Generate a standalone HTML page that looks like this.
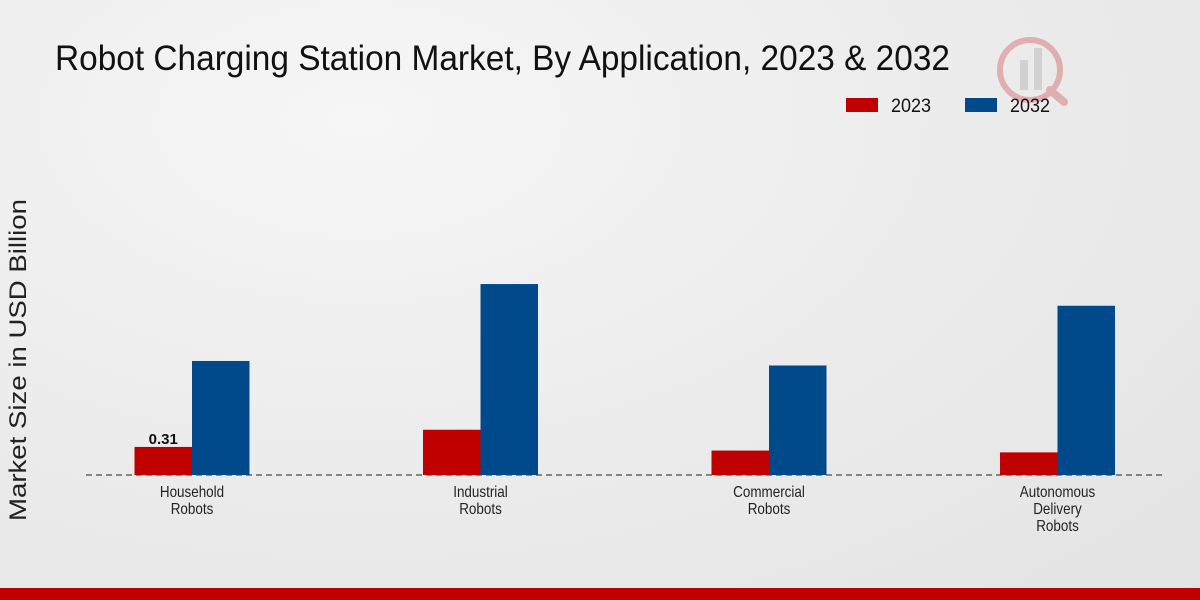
<!DOCTYPE html>
<html><head><meta charset="utf-8"><style>
body{margin:0;width:1200px;height:600px;overflow:hidden;font-family:"Liberation Sans",sans-serif;}
#bg{position:absolute;left:0;top:0;width:1200px;height:600px;background:radial-gradient(ellipse at 30% 20%,#f6f6f6 0%,#ececec 50%,#e3e3e3 100%);}
</style></head><body>
<div id="bg"></div>
<svg id="c" width="1200" height="600" style="position:absolute;left:0;top:0">
<g opacity="0.25">
<circle cx="1030" cy="70" r="30" fill="none" stroke="#c00000" stroke-width="6"/>
<rect x="1020" y="60" width="8" height="30" fill="#888"/>
<rect x="1034" y="48" width="8" height="42" fill="#888"/>
<line x1="1050" y1="90" x2="1064" y2="102" stroke="#c00000" stroke-width="8" stroke-linecap="round"/>
</g>
<text x="55" y="70" font-size="35" fill="#111" textLength="895" lengthAdjust="spacingAndGlyphs">Robot Charging Station Market, By Application, 2023 &amp; 2032</text>
<g>
<rect x="846" y="98" width="32" height="14" fill="#c00000"/>
<text x="891" y="112" font-size="19" fill="#111" textLength="40" lengthAdjust="spacingAndGlyphs">2023</text>
<rect x="965" y="98" width="32" height="14" fill="#004a8b"/>
<text x="1010" y="112" font-size="19" fill="#111" textLength="40" lengthAdjust="spacingAndGlyphs">2032</text>
</g>
<text transform="translate(26,360) rotate(-90)" text-anchor="middle" font-size="24" fill="#222" textLength="322" lengthAdjust="spacingAndGlyphs">Market Size in USD Billion</text>
<line x1="86" y1="475" x2="1163" y2="475" stroke="#222" stroke-dasharray="6,4"/>
<g id="bars"></g>
<rect x="0" y="588" width="1200" height="12" fill="#c00000"/>
</svg>
<script>
const categories=[["Household","Robots"],["Industrial","Robots"],["Commercial","Robots"],["Autonomous","Delivery","Robots"]];
const values2023=[0.31,0.50,0.27,0.25];
const values2032=[1.26,2.11,1.21,1.87];
const labels2023=["0.31",null,null,null];
const ns="http://www.w3.org/2000/svg";
const g=document.getElementById('bars');
const base=475, scale=90.5, x0=192, step=288.5, bw=57.5;
function y(v){return base-v*scale;}
function cx(i){return x0+i*step;}
function mk(t,a){const e=document.createElementNS(ns,t);for(const k in a)e.setAttribute(k,a[k]);g.appendChild(e);return e;}
categories.forEach((c,i)=>{
 let r=mk('rect',{x:cx(i)-bw,y:y(values2023[i]),width:bw,height:values2023[i]*scale,fill:'#c00000'});
 
 
 let r2=mk('rect',{x:cx(i),y:y(values2032[i]),width:bw,height:values2032[i]*scale,fill:'#004a8b'});
 
 
 if(labels2023[i]){let t=mk('text',{x:cx(i)-bw/2,y:y(values2023[i])-3,'text-anchor':'middle','font-size':15,'font-weight':'bold',fill:'#111'});t.textContent=labels2023[i];
 
 }
 c.forEach((line,j)=>{let t=mk('text',{x:cx(i),y:497+j*17,'text-anchor':'middle','font-size':16,fill:'#222'});t.textContent=line;
 
 
 const w=t.getComputedTextLength()*0.84;t.setAttribute('textLength',w);t.setAttribute('lengthAdjust','spacingAndGlyphs');});
});
</script>
</body></html>
